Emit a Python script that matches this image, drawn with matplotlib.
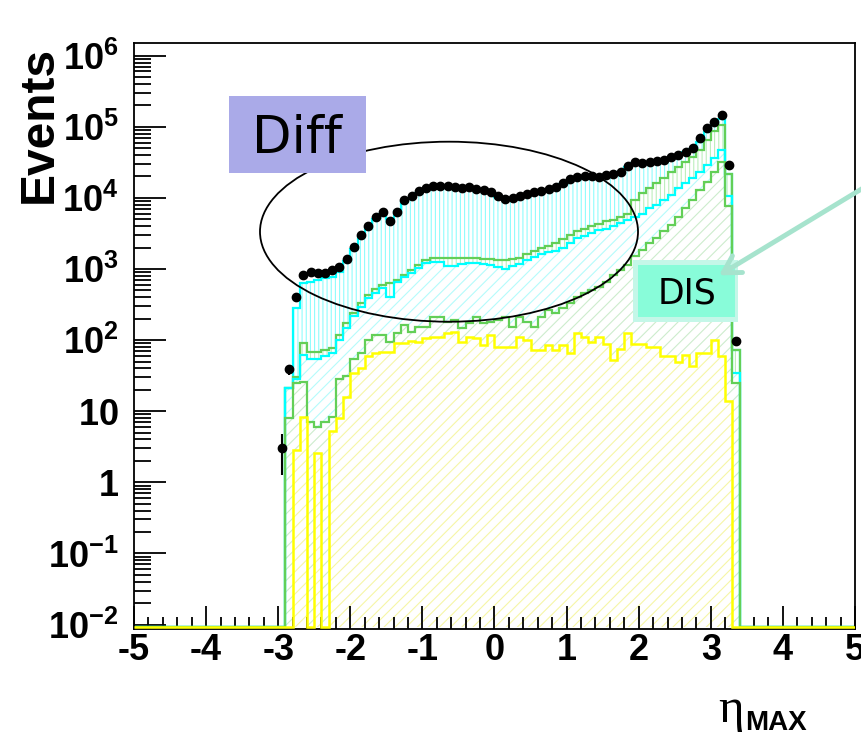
import matplotlib
matplotlib.use('Agg')
import matplotlib.pyplot as plt
import numpy as np
from matplotlib.patches import Ellipse, Rectangle, FancyArrowPatch
from matplotlib.ticker import MultipleLocator, LogLocator, NullFormatter

plt.rcParams['font.family'] = ['Liberation Sans', 'DejaVu Sans']
plt.rcParams['mathtext.fontset'] = 'custom'
plt.rcParams['mathtext.rm'] = 'Liberation Sans:bold'
plt.rcParams['mathtext.it'] = 'Liberation Sans:bold'
plt.rcParams['mathtext.bf'] = 'Liberation Sans:bold'
plt.rcParams['hatch.linewidth'] = 0.8

# eta_max bins of 0.1 from -3.0 to 3.4 (64 bins), events per bin
bin_lo = -3.0
bin_w = 0.1

data = [3, 39, 400, 830, 910, 870, 870, 980, 1070, 1400,
        2050, 3000, 4000, 5400, 6300, 4700, 6300, 9300, 10500, 12300,
        13800, 14500, 14800, 14500, 14100, 13800, 14100, 13500, 12900, 12000,
        10700, 9800, 10000, 10600, 11200, 12000, 12500, 13500, 14200, 16200,
        18200, 19500, 20000, 20400, 19800, 21000, 21900, 23400, 28200, 31600,
        30900, 32400, 33100, 33900, 37200, 40700, 44700, 50100, 69000, 95000,
        117000, 148000, 28800, 96]

mc_total = [0, 21, 280, 630, 660, 700, 740, 780, 900, 1300,
            1900, 2800, 3800, 5000, 5900, 5000, 6500, 8800, 10000, 11800,
            13200, 14000, 14300, 14100, 13700, 13500, 13600, 13100, 12500, 11600,
            10400, 9700, 9900, 10400, 11000, 11700, 12200, 13100, 13800, 15600,
            17600, 19000, 19800, 20200, 19800, 20800, 21800, 23500, 27500, 30500,
            30800, 32000, 33000, 34500, 37000, 40000, 44000, 49000, 62000, 85000,
            105000, 130000, 22000, 73]

green_hi = [0, 21, 30, 90, 69, 69, 72, 77, 117, 174,
            240, 330, 430, 525, 600, 630, 700, 830, 980, 1150,
            1350, 1420, 1420, 1420, 1450, 1420, 1450, 1420, 1380, 1380,
            1350, 1320, 1380, 1450, 1620, 1820, 1950, 2090, 2290, 2630,
            3000, 3400, 3700, 4000, 4300, 4700, 4900, 5400, 6000, 9300,
            11600, 13800, 16200, 19000, 23400, 27500, 32000, 38000, 47000, 65000,
            86000, 107000, 22000, 73]

cyan = [0, 21, 28, 62, 55, 55, 60, 65, 100, 150,
        215, 295, 390, 460, 540, 410, 660, 780, 870, 1020,
        1200, 1260, 1260, 1100, 1100, 1170, 1200, 1230, 1170, 1150,
        1070, 1000, 1100, 1170, 1350, 1480, 1620, 1740, 1820, 1950,
        2300, 2700, 2900, 3200, 3500, 3700, 4000, 4400, 4900, 5400,
        6000, 7100, 8000, 9300, 11000, 13800, 16200, 19000, 23400, 29000,
        36000, 47000, 10500, 35]

green_lo = [0, 8, 25, 26, 7, 6, 7, 8.3, 28, 31,
            55, 65, 100, 117, 117, 95, 126, 162, 130, 155,
            155, 209, 209, 182, 190, 148, 174, 209, 174, 182,
            190, 214, 155, 209, 182, 155, 214, 263, 240, 280,
            330, 410, 460, 500, 560, 660, 830, 980, 1150, 1500,
            1850, 2300, 2700, 3400, 4100, 5400, 7100, 9300, 13000, 17000,
            23400, 32000, 7600, 25]

yellow = [0, 0, 2.85, 8.3, 0, 2.6, 0, 5.2, 8, 16,
          34, 40, 59, 65, 69, 69, 91, 91, 98, 95,
          107, 112, 112, 126, 132, 95, 112, 107, 85, 117,
          81, 81, 81, 110, 100, 72, 72, 85, 72, 85,
          66, 126, 112, 95, 112, 89, 52, 76, 126, 89,
          89, 81, 81, 59, 59, 50, 62, 43, 65, 65,
          100, 59, 14, 0]

x_ticks = [-5, -4, -3, -2, -1, 0, 1, 2, 3, 4, 5]
y_ticks = [1e-2, 1e-1, 1, 10, 1e2, 1e3, 1e4, 1e5, 1e6]
y_labels = ['$10^{-2}$', '$10^{-1}$', '$1$', '$10$', '$10^{2}$',
            '$10^{3}$', '$10^{4}$', '$10^{5}$', '$10^{6}$']

n = len(data)
ymin, ymax = 10 ** -2.063, 10 ** 6.184
floor = 10 ** -2.035

# full range -5..5, empty bins outside the filled region
n_left = int(round((bin_lo + 5) / bin_w))
n_right = 100 - n_left - n
edges = np.round(np.linspace(-5, 5, 101), 2)


def full(v):
    v = np.concatenate([np.zeros(n_left), np.array(v, float), np.zeros(n_right)])
    return np.where(v > 0, v, floor)


fig = plt.figure(figsize=(8.61, 7.38), dpi=100)
ax = fig.add_axes([0.15563, 0.14770, 0.83740, 0.79458])
ax.set_yscale('log')
ax.set_xlim(-5, 5)
ax.set_ylim(ymin, ymax)


def band(lo, hi, color, hatch):
    lo = full(lo)
    hi = full(hi)
    ax.fill_between(edges, np.append(lo, lo[-1]), np.append(hi, hi[-1]), step='post',
                    facecolor='none', edgecolor=color, hatch=hatch, linewidth=0, zorder=1)


zeros = [0] * n
band(green_hi, mc_total, '#8ffcfc', '||||')
band(cyan, green_hi, '#bdeebd', '||||')
band(green_lo, cyan, '#b5fbfb', '///')
band(yellow, green_lo, '#cdeccd', '///')
band(zeros, yellow, '#f6f6a6', '///')

ax.stairs(full(mc_total), edges, baseline=None, color='#00ffff', linewidth=1.6, zorder=2)
ax.stairs(full(green_hi), edges, baseline=None, color='#63cf57', linewidth=1.6, zorder=2.1)
ax.stairs(full(cyan), edges, baseline=None, color='#00ffff', linewidth=1.6, zorder=2.2)
ax.stairs(full(green_lo), edges, baseline=None, color='#63cf57', linewidth=1.6, zorder=2.3)
ax.stairs(full(yellow), edges, baseline=None, color='#ffff00', linewidth=1.8, zorder=3)

centers = bin_lo + bin_w * (np.arange(n) + 0.5)
d = np.array(data, float)
ax.errorbar(centers, d, yerr=np.sqrt(d), fmt='o', color='black', markersize=6,
            elinewidth=1.5, capsize=0, zorder=5)

ax.add_patch(Ellipse((0.4369, 0.6775), 0.5243, 0.307, transform=ax.transAxes,
                     fill=False, edgecolor='black', linewidth=1.3, zorder=4))

ax.add_patch(Rectangle((0.1318, 0.7776), 0.190, 0.1313, transform=ax.transAxes,
                       facecolor='#aaaae8', edgecolor='none', zorder=6))
ax.text(0.2261, 0.8109, 'Diff', transform=ax.transAxes, ha='center', va='baseline',
        fontsize=37, family='DejaVu Sans', zorder=7)

ax.add_patch(Rectangle((0.6921, 0.5235), 0.1456, 0.1057, transform=ax.transAxes,
                       facecolor='#c4f7e8', edgecolor='none', zorder=6))
ax.add_patch(Rectangle((0.6990, 0.5320), 0.1345, 0.0887, transform=ax.transAxes,
                       facecolor='#88fcd9', edgecolor='none', zorder=6))
ax.text(0.7666, 0.5554, 'DIS', transform=ax.transAxes, ha='center', va='baseline',
        fontsize=25, family='DejaVu Sans', zorder=7)

arrow = FancyArrowPatch(posA=(1.005, 0.747), posB=(0.8324, 0.625), transform=fig.transFigure,
                        arrowstyle='->,head_length=0.6,head_width=0.35', mutation_scale=20,
                        linewidth=3.5, color='#a6e3cd', zorder=10)
fig.add_artist(arrow)

ax.xaxis.set_major_locator(MultipleLocator(1))
ax.xaxis.set_minor_locator(MultipleLocator(0.2))
ax.set_xticks(x_ticks, [str(t) for t in x_ticks], fontsize=26, fontweight='bold')
ax.set_yticks(y_ticks, y_labels, fontsize=26)
ax.yaxis.set_minor_locator(LogLocator(base=10, subs=np.arange(2, 10)))
ax.yaxis.set_minor_formatter(NullFormatter())

ax.tick_params(axis='x', which='major', direction='in', length=16.5, width=1.3, pad=3)
ax.tick_params(axis='x', which='minor', direction='in', length=8.5, width=1.3)
ax.tick_params(axis='y', which='major', direction='in', length=23, width=1.3, pad=11)
ax.tick_params(axis='y', which='minor', direction='in', length=12, width=1.3)
for s in ax.spines.values():
    s.set_linewidth(1.3)

fig.text(52 / 861, 1 - 124 / 738, 'Events', rotation=90, rotation_mode='anchor',
         ha='center', va='baseline', fontsize=34.5, fontweight='bold')
fig.text(718 / 861, 1 - 722 / 738, '\u03b7', fontsize=35, family='Liberation Serif',
         ha='left', va='baseline')
fig.text(745 / 861, 1 - 730 / 738, 'MAX', fontsize=20, fontweight='bold',
         ha='left', va='baseline')

fig.savefig('out.png', dpi=100)
